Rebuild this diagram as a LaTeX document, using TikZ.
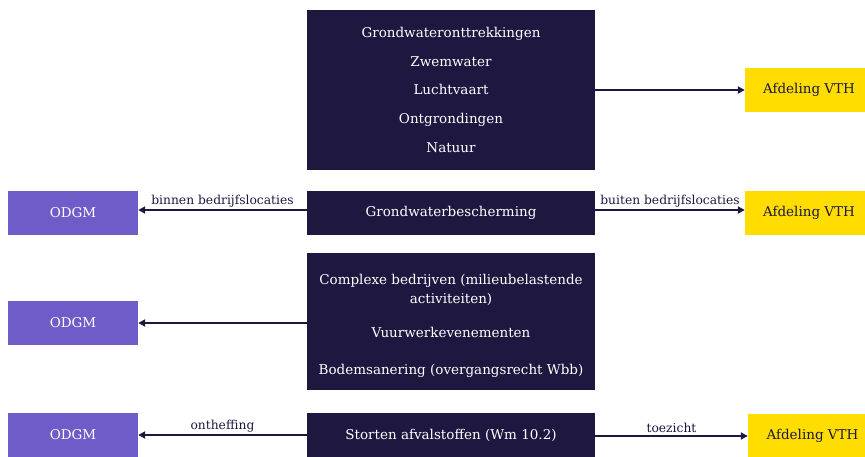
\documentclass[tikz,border=0pt]{standalone}
\usepackage{fontspec}
\setmainfont{DejaVu Serif}
\usetikzlibrary{arrows.meta}
\definecolor{navy}{HTML}{1E1740}
\definecolor{lila}{HTML}{705CC8}
\definecolor{geel}{HTML}{FFDD00}
\begin{document}
\begin{tikzpicture}[x=1pt,y=-1pt,
  bf/.style={font=\fontsize{13.5}{17}\selectfont},
  dark/.style={fill=navy,text=white,inner sep=0pt,bf},
  wt/.style={text=white,inner sep=0pt,text height=10pt,text depth=3pt,bf},
  odgm/.style={fill=lila,text=white,inner sep=0pt,minimum width=130pt,minimum height=44pt,bf},
  vth/.style={fill=geel,text=navy,inner sep=0pt,minimum height=44pt,bf},
  conn/.style={draw=navy,line width=1.8pt,-{Triangle[length=7pt,width=7pt]}},
  lab/.style={text=navy,font=\fontsize{12.3}{15}\selectfont,inner sep=1pt}]
\useasboundingbox (0,0) rectangle (865,457);
% top box
\node[dark,minimum width=288pt,minimum height=160pt] (top) at (451,90) {};
\node[wt] (t1) at (451,34) {Grondwateronttrekkingen};
\node[wt] (t2) at (451,63) {Zwemwater};
\node[wt] (t3) at (451,91) {Luchtvaart};
\node[wt] (t4) at (451,120) {Ontgrondingen};
\node[wt] (t5) at (451,149) {Natuur};
\node[vth,minimum width=120pt] (v1) at (805,90) {\hspace*{8pt}Afdeling VTH};
\draw[conn] (top.east |- v1) -- (v1.west);
% row 2
\node[dark,minimum width=288pt,minimum height=44pt] (gw) at (451,213) {Grondwaterbescherming};
\node[odgm] (o1) at (73,213) {ODGM};
\node[vth,minimum width=120pt] (v2) at (805,213) {\hspace*{8pt}Afdeling VTH};
\draw[conn] (gw.west |- 0,210) -- node[lab,above=1pt] {binnen bedrijfslocaties} (o1.east |- 0,210);
\draw[conn] (gw.east |- 0,210) -- node[lab,above=1pt] {buiten bedrijfslocaties} (v2.west |- 0,210);
% row 3
\node[dark,minimum width=288pt,minimum height=137pt] (cb) at (451,321.5) {};
\node[text=white,inner sep=0pt,align=center,font=\fontsize{13.5}{19}\selectfont] (c1) at (451,290) {Complexe bedrijven (milieubelastende\\activiteiten)};
\node[wt] (c2) at (451,334) {Vuurwerkevenementen};
\node[wt] (c3) at (451,371) {Bodemsanering (overgangsrecht Wbb)};
\node[odgm] (o2) at (73,323) {ODGM};
\draw[conn] (cb.west |- o2) -- (o2.east);
% row 4
\node[dark,minimum width=288pt,minimum height=44pt] (st) at (451,435) {Storten afvalstoffen (Wm 10.2)};
\node[odgm] (o3) at (73,435) {ODGM};
\node[vth,minimum width=117pt] (v3) at (806.5,436) {\hspace*{12pt}Afdeling VTH};
\draw[conn] (st.west) -- node[lab,above=1pt] {ontheffing} (o3.east);
\draw[conn] (st.east |- v3) -- node[lab,above=1pt] {toezicht} (v3.west);
\end{tikzpicture}
\end{document}
